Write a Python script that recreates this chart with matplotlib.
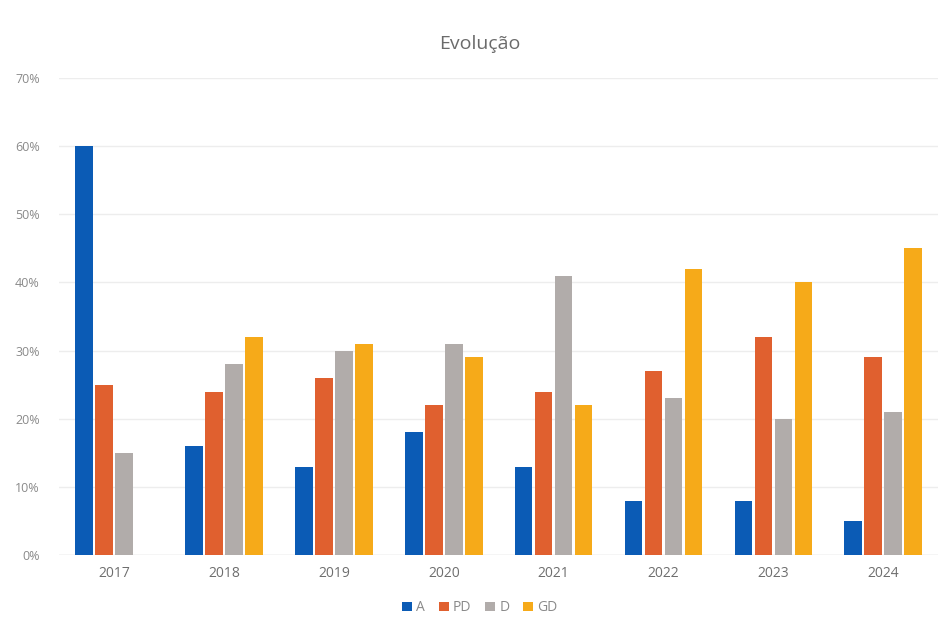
import matplotlib
matplotlib.use("Agg")
import matplotlib.pyplot as plt
import numpy as np
from matplotlib.ticker import FuncFormatter, MultipleLocator

years = ["2017", "2018", "2019", "2020", "2021", "2022", "2023", "2024"]
A = [60, 16, 13, 18, 13, 8, 8, 5]
PD = [25, 24, 26, 22, 24, 27, 32, 29]
D = [15, 28, 30, 31, 41, 23, 20, 21]
GD = [0, 32, 31, 29, 22, 42, 40, 45]

series = [("A", A, "#0B5BB5"), ("PD", PD, "#E0602F"), ("D", D, "#B1ACAA"), ("GD", GD, "#F6AA19")]

plt.rcParams['font.family'] = ['Open Sans', 'DejaVu Sans']
fig = plt.figure(figsize=(9.41, 6.28), dpi=100)
ax = fig.add_axes([0.063, 0.116, 0.934, 0.76])

x = np.arange(len(years))
w = 0.16
step = 0.182
offsets = [-1.5, -0.5, 0.5, 1.5]
for (name, vals, col), off in zip(series, offsets):
    ax.bar(x + off * step, vals, width=w, color=col, label=name, zorder=3)

ax.set_xlim(-0.5, len(years) - 0.5)
ax.set_ylim(0, 70)
ax.yaxis.set_major_locator(MultipleLocator(10))
ax.yaxis.set_major_formatter(FuncFormatter(lambda v, p: f"{int(v)}%"))
ax.set_xticks(x)
ax.set_xticklabels(years)
ax.tick_params(axis='both', length=0, colors="#8A8A8A", labelsize=9)
ax.tick_params(axis='x', labelsize=10, colors="#6E6E6E", pad=8)
ax.tick_params(axis='y', pad=14)
ax.grid(axis='y', color="#EDEDED", linewidth=1, zorder=0)
for s in ax.spines.values():
    s.set_visible(False)
ax.axhline(0, color="#E0E0E0", linewidth=1, zorder=2)

fig.text(0.51, 0.93, "Evolução", ha='center', va='center', fontsize=14, color="#6B6B6B")
fig.legend(loc='center', bbox_to_anchor=(0.51, 0.032), ncol=4, frameon=False,
           handlelength=0.7, handleheight=0.7, handletextpad=0.3, columnspacing=1.0,
           fontsize=10, labelcolor="#8A8A8A")

fig.savefig("out.png", dpi=100, facecolor="white")
